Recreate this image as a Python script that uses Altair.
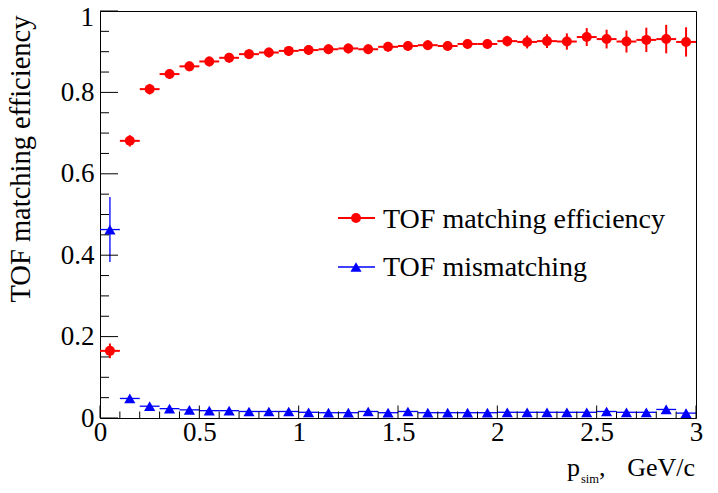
import altair as alt
import pandas as pd

# ---- data ----
p_center = [0.05, 0.15, 0.25, 0.35, 0.45, 0.55, 0.65, 0.75, 0.85, 0.95,
            1.05, 1.15, 1.25, 1.35, 1.45, 1.55, 1.65, 1.75, 1.85, 1.95,
            2.05, 2.15, 2.25, 2.35, 2.45, 2.55, 2.65, 2.75, 2.85, 2.95]
bin_half = 0.05

eff = [0.165, 0.681, 0.808, 0.845, 0.864, 0.876, 0.885, 0.894, 0.898, 0.902,
       0.904, 0.906, 0.908, 0.906, 0.912, 0.914, 0.916, 0.914, 0.919, 0.919,
       0.926, 0.924, 0.926, 0.925, 0.936, 0.931, 0.925, 0.929, 0.931, 0.924]
eff_err = [0.018, 0.014, 0.013, 0.012, 0.012, 0.012, 0.012, 0.012, 0.012, 0.012,
           0.012, 0.012, 0.012, 0.012, 0.012, 0.012, 0.012, 0.012, 0.012, 0.012,
           0.013, 0.016, 0.017, 0.020, 0.022, 0.023, 0.027, 0.030, 0.035, 0.036]

mis = [0.463, 0.048, 0.029, 0.023, 0.020, 0.018, 0.018, 0.016, 0.016, 0.016,
       0.014, 0.013, 0.013, 0.016, 0.013, 0.016, 0.013, 0.013, 0.013, 0.013,
       0.014, 0.014, 0.014, 0.014, 0.014, 0.016, 0.014, 0.014, 0.021, 0.012]
mis_err = [0.080, 0.006, 0.004, 0.004, 0.004, 0.004, 0.004, 0.004, 0.004, 0.004,
           0.004, 0.004, 0.004, 0.004, 0.004, 0.005, 0.005, 0.005, 0.005, 0.005,
           0.005, 0.006, 0.006, 0.006, 0.006, 0.007, 0.007, 0.008, 0.009, 0.009]

x_major = [0, 0.5, 1, 1.5, 2, 2.5, 3]
x_minor = [0.1, 0.2, 0.3, 0.4, 0.6, 0.7, 0.8, 0.9, 1.1, 1.2, 1.3, 1.4,
           1.6, 1.7, 1.8, 1.9, 2.1, 2.2, 2.3, 2.4, 2.6, 2.7, 2.8, 2.9]
y_major = [0, 0.2, 0.4, 0.6, 0.8, 1.0]
y_labelled = [0, 0.2, 0.4, 0.6, 0.8]   # "1" is drawn separately so it is not clipped
y_top_label = "1"
y_minor = [0.05, 0.1, 0.15, 0.25, 0.3, 0.35, 0.45, 0.5, 0.55,
           0.65, 0.7, 0.75, 0.85, 0.9, 0.95]

legend_labels = ["TOF matching efficiency", "TOF mismatching"]
x_title_parts = ["p", "sim", ",", "GeV/c"]
y_title = "TOF matching efficiency"

W, H = 596, 407
FONT = "Liberation Serif"
RED = "#ff0000"
BLUE = "#0000ff"
RED_SIZE = 100
BLUE_SIZE = 125


def make_df(vals, errs):
    return pd.DataFrame({
        "p": p_center,
        "lo": [c - bin_half for c in p_center],
        "hi": [c + bin_half for c in p_center],
        "v": vals,
        "vlo": [v - e for v, e in zip(vals, errs)],
        "vhi": [v + e for v, e in zip(vals, errs)],
    })


df_eff = make_df(eff, eff_err)
df_mis = make_df(mis, mis_err)

xs = alt.Scale(domain=[0, 3], nice=False, zero=False)
ys = alt.Scale(domain=[0, 1], nice=False, zero=False)

x_axis = alt.Axis(values=x_major, format="~g", grid=False, ticks=False, tickSize=0,
                  domain=False, labelFont=FONT, labelFontSize=27, labelColor="black",
                  labelPadding=1, labelFlush=False, title="")
y_axis = alt.Axis(values=y_labelled, format="~g", grid=False, ticks=False, tickSize=0,
                  domain=False, labelFont=FONT, labelFontSize=27, labelColor="black",
                  labelPadding=6, title=y_title, titleFont=FONT, titleFontSize=28.5,
                  titleFontWeight="normal", titleColor="black", titleAngle=270,
                  titleAlign="right", titleBaseline="alphabetic",
                  titleX=-71, titleY=4)


def X(field):
    return alt.X(field, type="quantitative", scale=xs, axis=x_axis)


def Y(field):
    return alt.Y(field, type="quantitative", scale=ys, axis=y_axis)


def series(df, color, shape, sw, size):
    base = alt.Chart(df)
    hbar = base.mark_rule(color=color, strokeWidth=sw).encode(
        x=X("lo"), x2="hi", y=Y("v"))
    vbar = base.mark_rule(color=color, strokeWidth=sw).encode(
        x=X("p"), y=Y("vlo"), y2="vhi")
    pts = base.mark_point(shape=shape, filled=True, color=color, opacity=1,
                          size=size, strokeWidth=0).encode(x=X("p"), y=Y("v"))
    return [hbar, vbar, pts]


layers = []
layers += series(df_eff, RED, "circle", 2, RED_SIZE)
layers += series(df_mis, BLUE, "triangle-up", 1.3, BLUE_SIZE)


# inward ROOT-style ticks
def xticks(vals, length):
    return alt.Chart(pd.DataFrame({"t": vals})).mark_rule(color="black", strokeWidth=1).encode(
        x=X("t"), y=alt.value(H), y2=alt.value(H - length))


def yticks(vals, length):
    return alt.Chart(pd.DataFrame({"t": vals})).mark_rule(color="black", strokeWidth=1).encode(
        y=Y("t"), x=alt.value(0), x2=alt.value(length))


layers += [xticks(x_major, 12.5), xticks(x_minor, 6.5),
           yticks(y_major, 18), yticks(y_minor, 9)]

# top y label, nudged down just enough to stay inside the drawing
layers.append(alt.Chart(pd.DataFrame({"s": [y_top_label]})).mark_text(
    font=FONT, fontSize=27, align="right", baseline="alphabetic", color="black"
).encode(x=alt.value(-6), y=alt.value(15), text="s:N"))

# legend
for lab, color, shape, sw, size, yl, yb in [
        (legend_labels[0], RED, "circle", 2, RED_SIZE, 207, 217),
        (legend_labels[1], BLUE, "triangle-up", 1.3, BLUE_SIZE, 256, 265)]:
    c = alt.Chart(pd.DataFrame({"label": [lab]}))
    layers.append(c.mark_rule(color=color, strokeWidth=sw).encode(
        x=alt.value(238), x2=alt.value(275), y=alt.value(yl)))
    layers.append(c.mark_point(shape=shape, filled=True, color=color, opacity=1,
                               size=size, strokeWidth=0).encode(
        x=alt.value(256), y=alt.value(yl)))
    layers.append(c.mark_text(font=FONT, fontSize=28, align="left",
                              baseline="alphabetic", color="black").encode(
        x=alt.value(283), y=alt.value(yb), text="label:N"))


# x-axis title with subscript
def tpart(i, x, y, size, align="left"):
    return alt.Chart(pd.DataFrame({"s": [x_title_parts[i]]})).mark_text(
        font=FONT, fontSize=size, align=align, baseline="alphabetic", color="black"
    ).encode(x=alt.value(x), y=alt.value(y), text="s:N")


layers += [tpart(0, 467, 465, 26), tpart(1, 481, 472, 12.5),
           tpart(2, 499, 465, 26), tpart(3, 595, 465, 26, align="right")]

chart = alt.layer(*layers).properties(
    width=W, height=H,
    autosize=alt.AutoSizeParams(type="none"),
    padding={"left": 92, "top": 3, "right": 14, "bottom": 67},
).configure(background="white").configure_view(stroke="black", strokeWidth=1)

chart.save("out.html", embed_options={"renderer": "svg", "actions": False})
